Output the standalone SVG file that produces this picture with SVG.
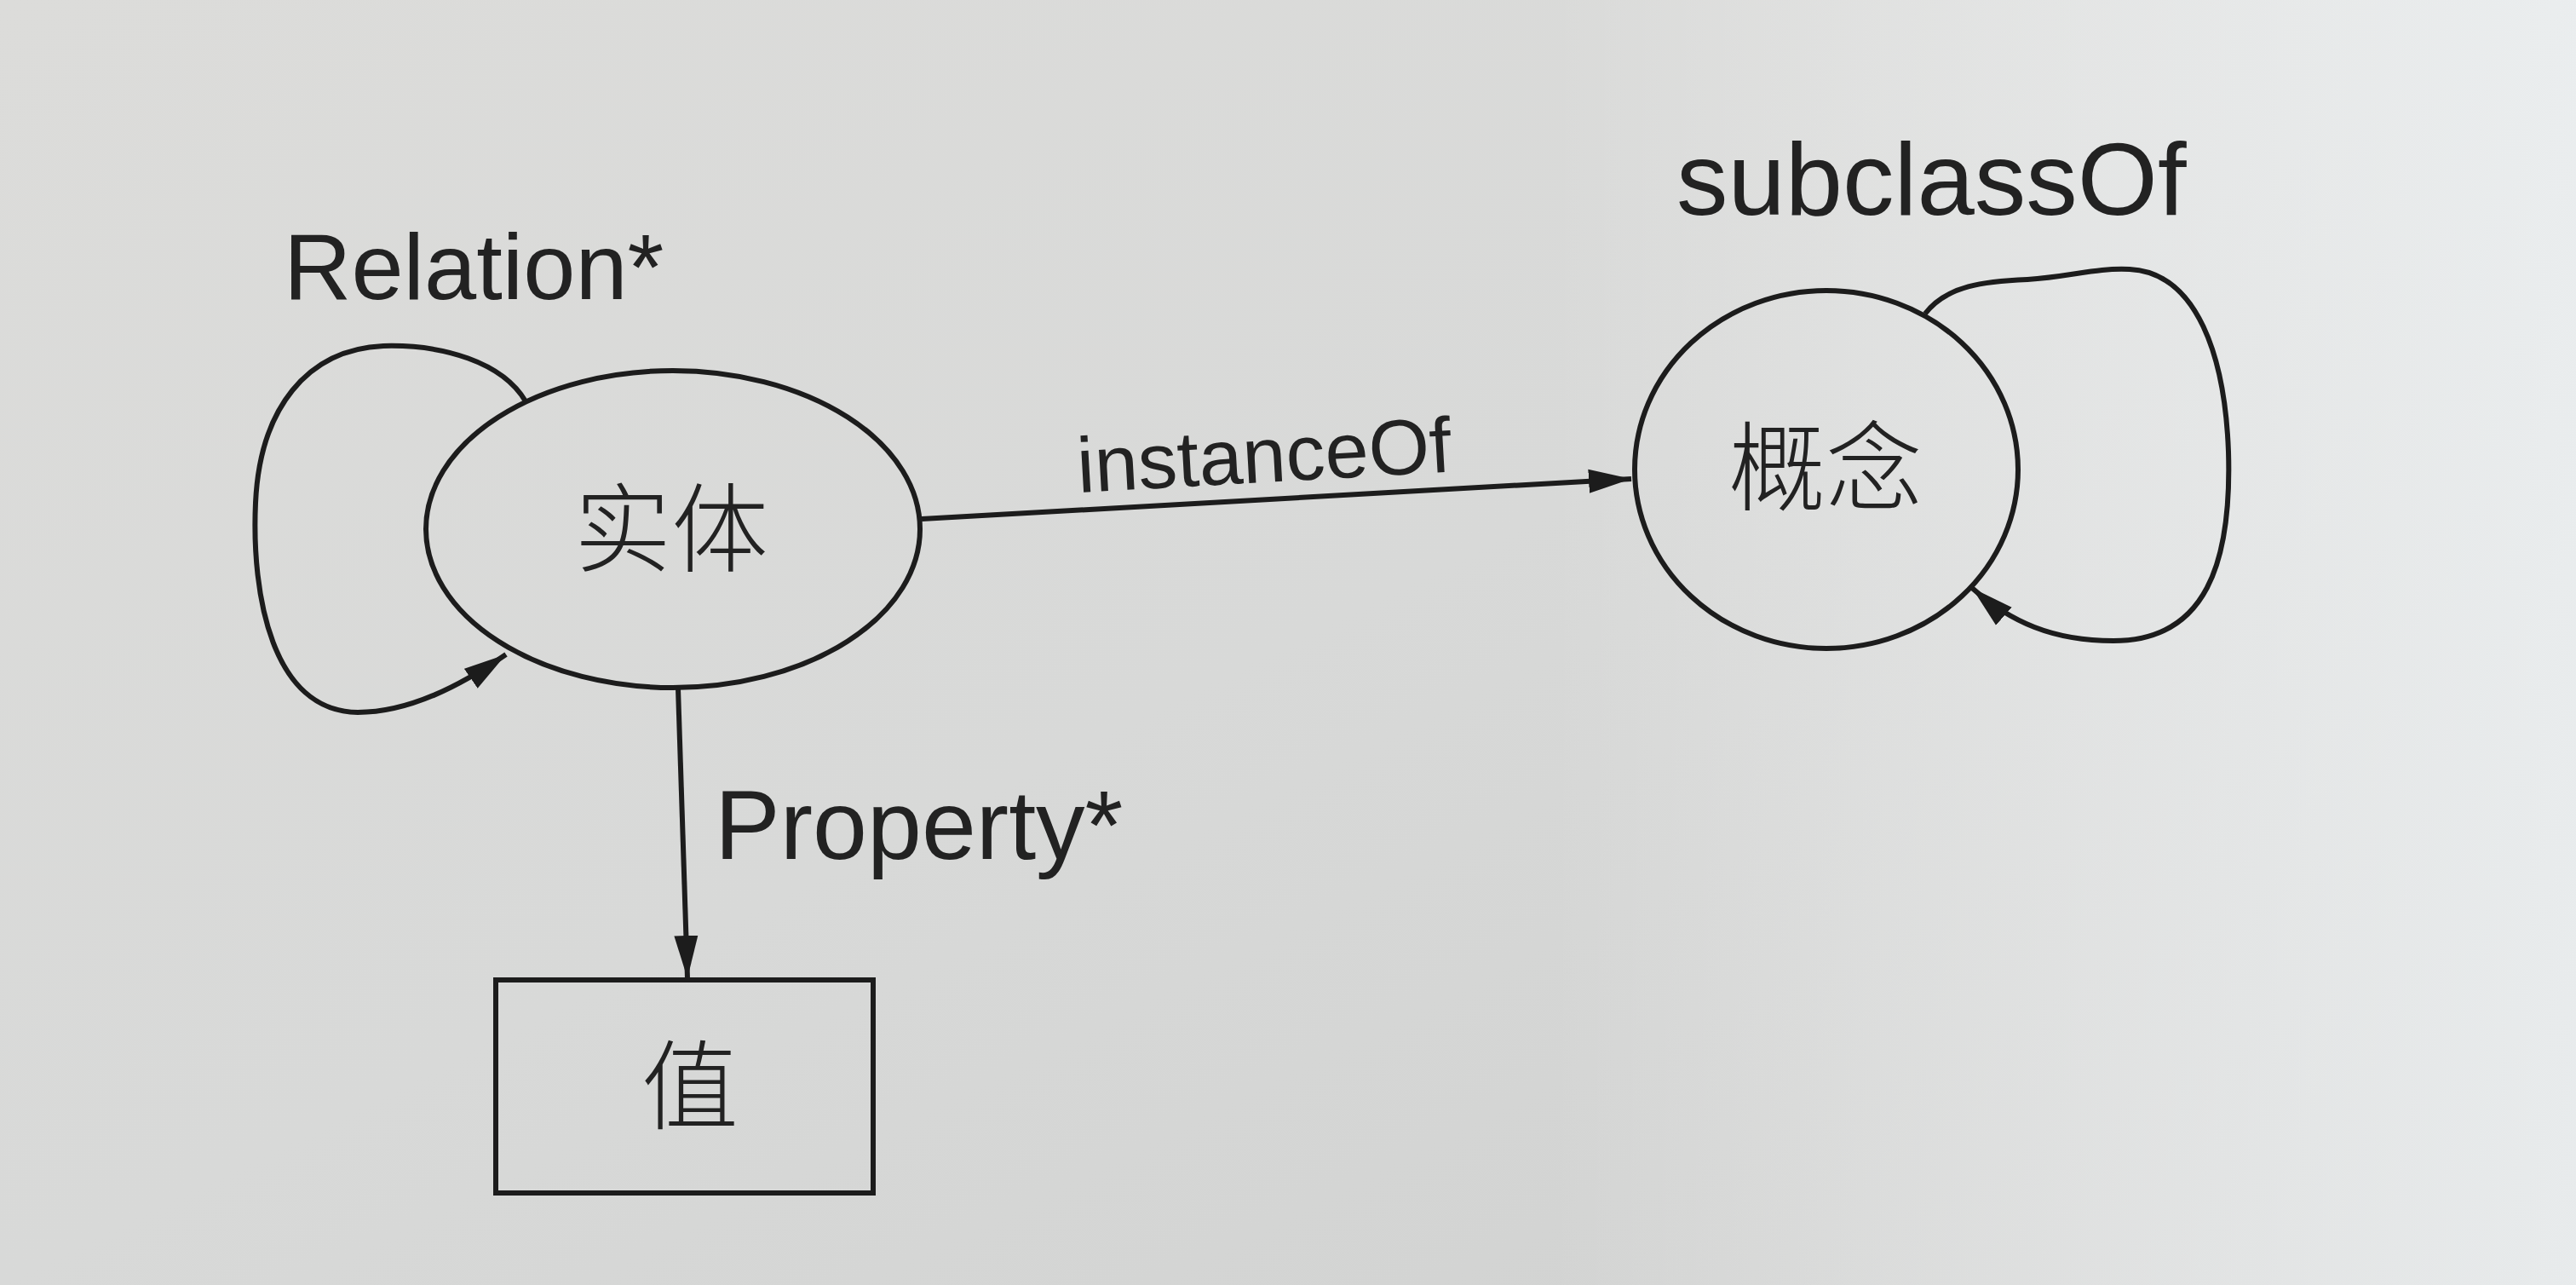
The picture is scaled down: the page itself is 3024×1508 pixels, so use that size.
<svg xmlns="http://www.w3.org/2000/svg" width="3024" height="1508" viewBox="0 0 3024 1508">
<defs>
<linearGradient id="bg" x1="0" y1="0" x2="1" y2="1">
<stop offset="0" stop-color="#dcdcda"/>
<stop offset="0.5" stop-color="#d8d9d8"/>
<stop offset="1" stop-color="#cfd0cf"/>
</linearGradient>
<linearGradient id="bgr" x1="0" y1="0" x2="1" y2="0">
<stop offset="0.6" stop-color="#ffffff" stop-opacity="0"/>
<stop offset="1" stop-color="#f2f6f8" stop-opacity="0.7"/>
</linearGradient>
<marker id="arr" markerUnits="userSpaceOnUse" markerWidth="52" markerHeight="30" refX="50" refY="15" orient="auto">
<path d="M0,1 L50,15 L0,29 z" fill="#1c1c1c"/>
</marker>
</defs>
<style>
.shape{fill:none;stroke:#1c1c1c;stroke-width:6}
.edge{fill:none;stroke:#1c1c1c;stroke-width:6;marker-end:url(#arr)}
.lbl{font-family:"Liberation Sans","Noto Sans CJK SC",sans-serif;fill:#222222}
.cjk{font-family:"Noto Sans CJK SC","Liberation Sans",sans-serif;fill:#222222;font-size:114px;text-anchor:middle;font-weight:300}
</style>
<rect x="0" y="0" width="3024" height="1508" fill="url(#bg)"/>
<rect x="0" y="0" width="3024" height="1508" fill="url(#bgr)"/>

<g id="connectors">
<path id="edge-relation" class="edge" d="M617,471 C590,425 520,404 450,406 C360,410 305,480 300,590 C295,700 320,835 420,836 C480,836 540,805 594,768"/>
<path id="edge-instanceof" class="edge" d="M1082,609 L1915,562"/>
<path id="edge-property" class="edge" d="M796,808 L807,1148"/>
<path id="edge-subclassof" class="edge" d="M2260,368 C2285,335 2330,330 2380,328 C2430,325 2460,314 2500,316 C2580,320 2612,420 2616,530 C2620,660 2590,752 2481,752 C2410,752 2360,730 2315,690"/>
<text class="lbl" x="333" y="351" font-size="110">Relation*</text>
<text class="lbl" x="1266" y="578" font-size="92" transform="rotate(-3.2 1266 578)">instanceOf</text>
<text class="lbl" x="839" y="1008" font-size="115">Property*</text>
<text class="lbl" x="1968" y="252" font-size="121">subclassOf</text>
</g>

<g id="node-entity">
<ellipse class="shape" cx="790" cy="621" rx="290" ry="186"/>
<text class="cjk" x="788" y="662">实体</text>
</g>

<g id="node-concept">
<ellipse class="shape" cx="2144" cy="551" rx="225" ry="210"/>
<text class="cjk" x="2143" y="590">概念</text>
</g>

<g id="node-value">
<rect class="shape" x="582" y="1150" width="443" height="250"/>
<text class="cjk" x="810" y="1316">值</text>
</g>
</svg>
